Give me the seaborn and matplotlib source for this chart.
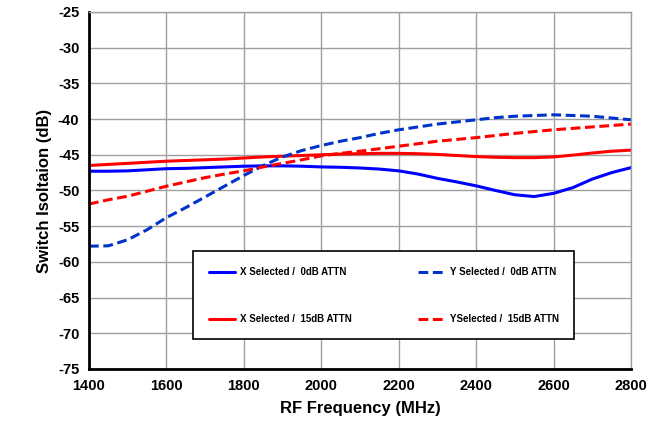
import matplotlib
matplotlib.use("Agg")
import matplotlib.pyplot as plt
from matplotlib.ticker import MultipleLocator
import seaborn as sns
import pandas as pd

# values, every 50 MHz
freq = [1400, 1450, 1500, 1550, 1600, 1650, 1700, 1750, 1800, 1850, 1900, 1950, 2000, 2050, 2100,
        2150, 2200, 2250, 2300, 2350, 2400, 2450, 2500, 2550, 2600, 2650, 2700, 2750, 2800]
x_0db = [-47.3, -47.3, -47.25, -47.1, -46.95, -46.9, -46.8, -46.7, -46.6, -46.55, -46.55, -46.6, -46.7, -46.75, -46.85,
         -47.0, -47.25, -47.7, -48.3, -48.8, -49.35, -50.0, -50.6, -50.85, -50.4, -49.6, -48.4, -47.5, -46.8]
y_0db = [-57.8, -57.75, -56.9, -55.5, -53.8, -52.4, -50.9, -49.4, -47.9, -46.5, -45.3, -44.4, -43.7, -43.1, -42.6,
         -42.0, -41.5, -41.1, -40.7, -40.4, -40.1, -39.8, -39.6, -39.5, -39.4, -39.5, -39.6, -39.85, -40.1]
x_15db = [-46.5, -46.35, -46.2, -46.05, -45.9, -45.8, -45.7, -45.6, -45.45, -45.3, -45.2, -45.1, -45.0, -44.9, -44.85,
          -44.8, -44.8, -44.85, -44.95, -45.1, -45.25, -45.35, -45.4, -45.4, -45.3, -45.05, -44.75, -44.5, -44.35]
y_15db = [-51.9, -51.3, -50.8, -50.1, -49.4, -48.8, -48.2, -47.7, -47.25, -46.7, -46.2, -45.7, -45.15, -44.8, -44.5,
          -44.15, -43.8, -43.45, -43.1, -42.85, -42.6, -42.3, -42.0, -41.75, -41.5, -41.3, -41.1, -40.9, -40.7]

labels = ["X Selected /  0dB ATTN", "X Selected /  15dB ATTN",
          "Y Selected /  0dB ATTN", "YSelected /  15dB ATTN"]
series = [x_0db, x_15db, y_0db, y_15db]
colors = ["#0000FF", "#FF0000", "#0033CC", "#FF0000"]
dashes = [False, False, True, True]

sns.set_style("white")
plt.rcParams['font.family'] = ['Liberation Sans', 'DejaVu Sans']
plt.rcParams['font.weight'] = 'bold'
plt.rcParams['axes.unicode_minus'] = False
plt.rcParams['text.color'] = 'black'
plt.rcParams['axes.labelcolor'] = 'black'
plt.rcParams['xtick.color'] = 'black'
plt.rcParams['ytick.color'] = 'black'

fig = plt.figure(figsize=(6.67, 4.34), dpi=100)
ax = fig.add_axes([0.1334, 0.1498, 0.8126, 0.8226])

for vals, lab, col, dsh in zip(series, labels, colors, dashes):
    df = pd.DataFrame({"freq": freq, "val": vals})
    sns.lineplot(data=df, x="freq", y="val", color=col, lw=2.2, label=lab, ax=ax)
    if dsh:
        ax.lines[-1].set_dashes([3.2, 1.5])

ax.set_xlim(1400, 2800)
ax.set_ylim(-75, -25)
ax.xaxis.set_major_locator(MultipleLocator(200))
ax.xaxis.set_minor_locator(MultipleLocator(100))
ax.yaxis.set_major_locator(MultipleLocator(5))
ax.yaxis.set_minor_locator(MultipleLocator(2.5))
ax.grid(True, which='major', color='#a0a0a0', lw=1)
ax.set_axisbelow(True)

ax.tick_params(which='major', direction='inout', length=8, width=1.5, labelsize=10.5, color='black', pad=3)
ax.tick_params(which='minor', direction='inout', length=6, width=1.5, color='black')
for t in ax.get_xticklabels() + ax.get_yticklabels():
    t.set_fontweight('bold')

for s in ['left', 'bottom']:
    ax.spines[s].set_color('black')
    ax.spines[s].set_linewidth(2)
for s in ['top', 'right']:
    ax.spines[s].set_color('#a0a0a0')
    ax.spines[s].set_linewidth(1)

ax.set_xlabel("RF Frequency (MHz)", fontsize=12, fontweight='bold', labelpad=6)
ax.set_ylabel("Switch Isoltaion (dB)", fontsize=12, fontweight='bold', labelpad=4)

leg = ax.legend(loc='center', bbox_to_anchor=(0.183, 0.086, 0.721, 0.24), mode='expand',
                ncol=2, frameon=True, fancybox=False, handlelength=2.7,
                handletextpad=0.5, labelspacing=3.8, borderpad=1.6, columnspacing=2.0,
                prop={'weight': 'bold', 'size': 7})
leg.get_frame().set_edgecolor('black')
leg.get_frame().set_linewidth(1.2)
leg.get_frame().set_alpha(1)

fig.savefig("out.png", dpi=100)
